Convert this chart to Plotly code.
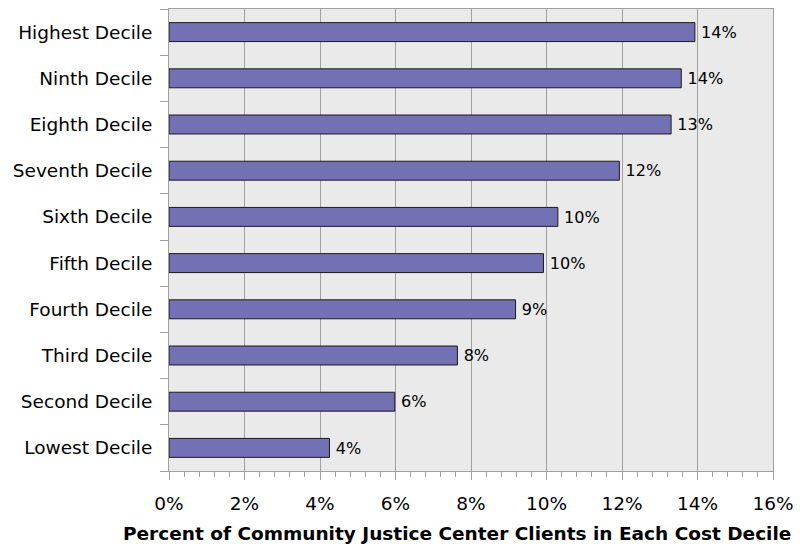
import plotly.graph_objects as go

categories = ["Lowest Decile", "Second Decile", "Third Decile", "Fourth Decile",
              "Fifth Decile", "Sixth Decile", "Seventh Decile", "Eighth Decile",
              "Ninth Decile", "Highest Decile"]
values = [4.25, 5.98, 7.64, 9.18, 9.92, 10.30, 11.93, 13.30, 13.57, 13.93]
labels = [f"{round(v):.0f}%" for v in values]
x_ticks = [0, 2, 4, 6, 8, 10, 12, 14, 16]
x_tick_labels = [f"{t}%" for t in x_ticks]
x_title = "Percent of Community Justice Center Clients in Each Cost Decile"

FONT = "DejaVu Sans, Liberation Sans, Arial, sans-serif"

fig = go.Figure(go.Bar(
    y=categories, x=values, orientation="h",
    marker=dict(color="#7470b4", line=dict(color="#1a1a1a", width=1)),
    text=labels, texttemplate="\u2009%{text}", textposition="outside", cliponaxis=False,
    textfont=dict(family=FONT, size=17, color="#000000"),
))

# page body has an 8px default margin: shrink the figure to fit the window
fig.update_layout(
    width=795, height=536,
    margin=dict(l=161, r=30, t=1, b=73, autoexpand=False),
    paper_bgcolor="#ffffff", plot_bgcolor="#eaeaea",
    bargap=0.59, showlegend=False,
    font=dict(family=FONT, size=18, color="#000000"),
)
fig.add_annotation(
    text=f"<b>{x_title}</b>", xref="paper", yref="paper",
    x=0.4776, y=0, xanchor="center", yanchor="middle", yshift=-62,
    showarrow=False, font=dict(family=FONT, size=18.5, color="#000000"),
)
fig.update_xaxes(
    range=[0, 16], tickvals=x_ticks, ticktext=x_tick_labels,
    showgrid=True, gridcolor="#a0a0a0", gridwidth=1,
    showline=True, linecolor="#a0a0a0", linewidth=1, mirror=True,
    ticks="outside", ticklen=8, tickcolor="#a0a0a0", ticklabelstandoff=8,
    minor=dict(dtick=0.4, ticks="outside", ticklen=5, tickcolor="#a0a0a0", showgrid=False),
    tickfont=dict(family=FONT, size=18.5), zeroline=False, automargin=False,
)
fig.update_yaxes(
    showline=True, linecolor="#a0a0a0", linewidth=1, mirror=True,
    ticks="outside", ticklen=8, tickcolor="#a0a0a0", tickson="boundaries",
    ticklabelstandoff=12,
    tickfont=dict(family=FONT, size=18.5), showgrid=False, automargin=False,
)

fig.write_html("out.html")
